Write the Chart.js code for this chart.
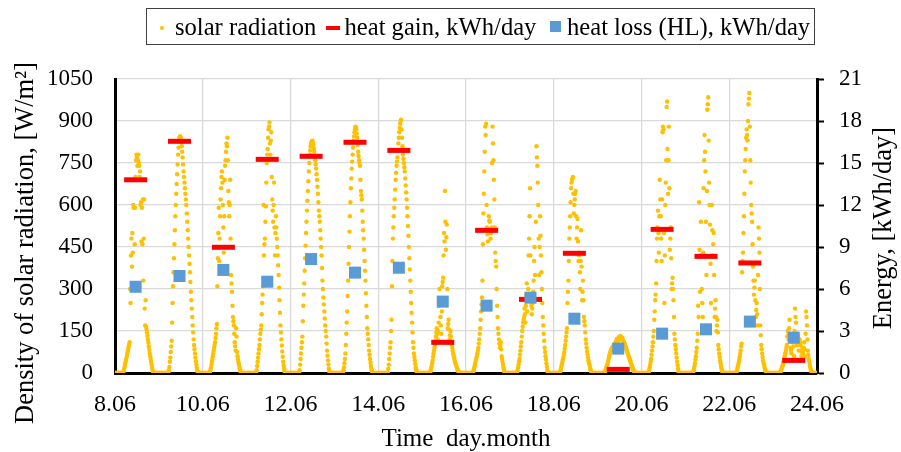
<!DOCTYPE html>
<html>
<head>
<meta charset="utf-8">
<script src="https://cdn.jsdelivr.net/npm/chart.js@4.4.1/dist/chart.umd.min.js"></script>
<style>
  html, body { margin: 0; padding: 0; background: #fff; }
  #wrap { position: relative; width: 901px; height: 452px; }
  #legendBox { position: absolute; left: 146px; top: 8px; width: 667px; height: 35px; border: 1px solid #404040; }
  .lg { position: absolute; top: 15px; font-family: 'Liberation Serif', 'Times New Roman', serif; font-size: 24.6px; line-height: 1; color: #000; white-space: nowrap; }
  .mk { position: absolute; }
</style>
</head>
<body>
<div id="wrap">
  <canvas id="solarChart"></canvas>
  <div id="legendBox"></div>
  <div class="mk" style="left:160px;top:25.5px;width:4px;height:4px;border-radius:50%;background:#FFC000"></div>
  <span class="lg" style="left:175px">solar radiation</span>
  <div class="mk" style="left:326px;top:26px;width:13.5px;height:3.5px;background:#FF0000"></div>
  <span class="lg" style="left:344.5px">heat gain, kWh/day</span>
  <div class="mk" style="left:550px;top:21px;width:11px;height:11px;background:#5B9BD5"></div>
  <span class="lg" style="left:567px">heat loss (HL), kWh/day</span>
</div>
<script>
// days of June shown on the chart
const days = [8, 9, 10, 11, 12, 13, 14, 15, 16, 17, 18, 19, 20, 21, 22, 23];

// solar radiation, W/m2, one reading every 15 min (0:00 ... 23:45) for each day
const solar = [
  [0,0,0,0,0, 0,0,0,0,0, 0,0,0,0,0, 0,0,0,
   3,8,15,22,30,38,46,54,62,70, 78,86,94,102,110,300,250,420,480,380, 500,430,600,590,320,460,590,700,760,780,
   770,740,760,780,750,740,700,720,600,610, 470,590,460,620,330,480,620,230,170,260, 165,155,145,132,120,108,95,82,70,60, 50,40,30,20,12,5,
   0,0,0,0,0, 0,0,0,0,0, 0,0],
  [0,0,0,0,0, 0,0,0,0,0, 0,0,0,0,0, 0,0,0,0,0, 0,0,
   10,22,40,55,75,95,115,180,250,310, 360,410,460,510,560,600,640,675,710,745, 780,805,830,840,845,845,840,825,810,790,
   770,745,720,700,680,660,640,620,600,570, 540,510,480,450,420,390,360,325,290,260, 230,200,170,145,120,100,85,70,55,42, 30,20,10,4,
   0,0,0,0,0, 0,0,0,0,0],
  [0,0,0,0,0, 0,0,0,0,0, 0,0,0,0,0, 0,
   5,12,20,30,40,50,60,70,80,90, 100,110,125,140,160,175,310,410,500,590, 400,480,560,620,660,700,720,680,600,520,
   430,560,690,740,760,790,820,810,840,760, 650,610,560,600,690,480,350,320,290,240, 200,185,170,140,110,95,80,160,130,75, 60,50,40,32,25,17,10,4,
   0,0,0,0,0, 0,0,0,0,0, 0,0],
  [0,0,0,0,0, 0,0,0,0,0, 0,0,0,0,0, 0,0,0,0,0, 0,0,
   10,25,40,55,70,85,100,120,140,155, 170,210,250,280,310,600,420,460,480,540, 595,680,750,780,800,840,870,880,895,820,
   780,830,860,700,620,580,540,600,680,520, 420,500,560,520,480,450,420,385,350,305, 260,215,170,145,120,98,77,58,40,27, 15,6,
   0,0,0,0,0, 0,0,0,0,0, 0,0],
  [0,0,0,0,0, 0,0,0,0,0, 0,0,0,0,0, 0,0,0,0,0,
   10,30,50,70,90,110,130,185,240,280, 320,365,410,455,500,540,580,615,650,685, 720,750,780,795,810,818,825,828,830,822,
   815,802,790,775,760,745,730,710,690,665, 640,610,580,560,540,510,480,450,420,375, 330,300,270,245,220,195,170,150,130,105, 80,62,45,30,15,5,
   0,0,0,0,0, 0,0,0,0,0],
  [0,0,0,0,0, 0,0,0,0,0, 0,0,0,0,0, 0,0,0,0,0,
   10,20,35,50,70,100,140,180,220,275, 330,390,450,505,560,610,660,695,730,755, 780,805,830,845,860,870,880,878,870,855,
   840,815,790,775,760,750,740,690,650,635, 620,580,540,510,480,440,400,365,330,285, 240,200,160,140,120,100,80,65,50,37, 25,15,8,3,
   0,0,0,0,0, 0,0,0,0,0, 0,0],
  [0,0,0,0,0, 0,0,0,0,0, 0,0,0,0,0, 0,0,0,0,0, 0,0,
   15,30,50,70,90,110,150,190,310,400, 480,520,560,590,620,655,690,715,740,755, 770,795,820,840,860,875,890,900,905,870,
   840,810,780,765,750,735,720,695,670,645, 620,590,560,525,490,450,410,370,330,290, 250,215,180,145,110,90,70,57,45,32, 20,12,5,2,
   0,0,0,0,0, 0,0,0,0,0],
  [0,0,0,0,0, 0,0,0,0,0, 0,0,0,0,0, 0,0,0,
   5,10,18,25,35,45,58,70,80,90, 100,115,130,145,160,140,120,150,180,240, 300,250,200,170,140,220,310,325,340,420,
   500,470,650,540,440,485,530,300,160,175, 190,155,120,135,150,130,110,100,90,80, 70,62,55,47,40,35,30,25,20,15, 10,7,5,2,
   0,0,0,0,0, 0,0,0,0,0, 0,0,0,0],
  [0,0,0,0,0, 0,0,0,0,0, 0,0,0,0,0, 0,
   5,10,18,25,32,40,48,55,62,70, 80,90,105,120,140,160,190,220,245,270, 330,460,570,640,720,790,880,850,890,600,
   520,495,470,515,560,545,540,510,480,500, 520,750,880,820,760,690,620,520,430,400, 380,300,240,200,160,140,120,105,90,100, 110,85,60,50,40,30,20,12,5,2,
   0,0,0,0,0, 0,0,0,0,0],
  [0,0,0,0,0, 0,0,0,0,0, 0,0,0,0,0, 0,
   5,12,20,30,40,50,65,80,95,110, 130,150,165,180,190,200,230,210,180,240, 280,320,220,260,300,420,480,560,660,420,
   280,240,210,230,250,290,330,400,450,350, 260,540,810,770,740,680,600,480,350,450, 560,490,420,360,300,250,200,170,140,115, 90,75,60,48,35,22,10,4,
   0,0,0,0,0, 0,0,0,0,0, 0,0],
  [0,0,0,0,0, 0,0,0,0,0, 0,0,0,0,
   5,10,18,25,32,40,48,55,65,75, 88,100,115,130,145,160,250,290,330,400, 480,520,560,610,660,680,690,695,700,640,
   570,600,620,640,650,560,480,520,550,470, 400,420,430,360,300,400,510,380,260,290, 330,260,200,185,170,145,120,105,90,77, 65,55,45,37,30,22,15,10,5,2,
   0,0,0,0,0, 0,0,0,0,0, 0,0],
  [0,0,0,0,0, 0,0,0,0,0, 0,0,0,0,0, 0,
   3,8,14,20,25,30,35,42,50,58, 65,70,75,80,85,88,90,93,95,98, 100,103,105,108,110,116,122,115,108,118,
   128,122,118,125,132,126,120,123,126,119, 112,111,110,105,100,95,90,85,80,75, 70,65,60,55,50,45,40,35,30,25, 20,16,12,8,5,2,
   0,0,0,0,0, 0,0,0,0,0, 0,0,0,0],
  [0,0,0,0,0, 0,0,0,0,0, 0,0,0,0,0, 0,
   5,12,20,30,40,50,65,80,95,110, 130,150,190,220,260,280,320,400,480,520, 580,500,430,560,690,620,560,480,400,620,
   860,880,870,500,250,420,600,680,760,950, 970,800,640,760,880,660,440,480,520,410, 300,320,340,300,260,200,140,120,100,85, 70,55,40,28,15,5,
   0,0,0,0,0, 0,0,0,0,0, 0,0,0,0],
  [0,0,0,0,0, 0,0,0,0,0, 0,0,0,0,0, 0,0,0,
   8,15,25,35,48,60,75,90,115,140, 240,200,610,440,290,420,540,420,300,250, 200,430,660,760,850,790,720,540,350,650,
   940,960,985,830,680,600,530,390,250,420, 600,510,420,460,500,350,200,230,260,200, 150,170,190,145,100,85,70,57,45,35, 25,17,10,4,
   0,0,0,0,0, 0,0,0,0,0, 0,0,0,0],
  [0,0,0,0,0, 0,0,0,0,0, 0,0,0,0,0, 0,
   5,10,18,25,32,40,50,60,70,80, 95,105,360,400,430,500,560,640,720,760, 800,840,870,850,830,900,960,980,1000,880,
   760,680,600,570,540,460,380,330,280,305, 330,260,200,225,250,210,170,350,520,480, 430,300,170,135,100,85,70,57,45,37, 30,22,15,10,5,2,
   0,0,0,0,0, 0,0,0,0,0, 0,0,0,0],
  [0,0,0,0,0, 0,0,0,0,0, 0,0,0,0,0, 0,
   5,8,12,18,22,28,35,42,50,58, 65,72,80,90,100,130,150,135,120,160, 190,140,90,80,70,90,110,120,130,95,
   60,150,230,200,180,140,100,115,130,105, 80,100,120,110,100,80,60,75,90,80, 70,90,110,85,60,140,220,200,170,120, 80,65,50,40,30,22,15,10,5,2,
   0,0,0,0,0, 0,0,0,0,0]
];

// daily energy, kWh/day
const heatGain = [13.8, 16.55, 8.98, 15.26, 15.48, 16.48, 15.9, 2.19, 10.19, 5.26, 8.55, 0.26, 10.26, 8.33, 7.86, 0.9];
const heatLoss = [6.16, 6.93, 7.36, 6.52, 8.14, 7.17, 7.52, 5.1, 4.81, 5.38, 3.88, 1.74, 2.81, 3.12, 3.67, 2.52];

const xTickLabels = ['8.06', '10.06', '12.06', '14.06', '16.06', '18.06', '20.06', '22.06', '24.06'];

const leftTitle = 'Density of solar radiation, [W/m²]';
const rightTitle = 'Energy, [kWh/day]';

const markerTime = 0.47; // daily values plotted near midday
const font = "'Liberation Serif', 'Times New Roman', serif";

const solarPoints = [];
days.forEach((d, k) => {
    solar[k].forEach((v, i) => {
        solarPoints.push({ x: d + i / solar[k].length, y: v });
    });
});
const gainPoints = days.map((d, k) => ({ x: d + markerTime, y: heatGain[k] }));
const lossPoints = days.map((d, k) => ({ x: d + markerTime, y: heatLoss[k] }));

// both y titles read bottom-to-top, so draw them by hand
function drawVertical(c, text, x, y, size) {
    c.save();
    c.fillStyle = '#000';
    c.textAlign = 'center';
    c.textBaseline = 'middle';
    c.font = size + 'px ' + font;
    c.translate(x, y);
    c.rotate(-Math.PI / 2);
    c.fillText(text, 0, 0);
    c.restore();
}
const axisTitles = {
    id: 'axisTitles',
    afterDraw(chart) {
        drawVertical(chart.ctx, leftTitle, 26, 243, 26.5);
        drawVertical(chart.ctx, rightTitle, 884, 228, 26.5);
    }
};

const ctx = document.getElementById('solarChart').getContext('2d');
new Chart(ctx, {
    type: 'scatter',
    data: {
        datasets: [{
            label: 'solar radiation',
            data: solarPoints,
            yAxisID: 'y',
            pointRadius: 2.2,
            pointBackgroundColor: '#FFC000',
            pointBorderWidth: 0,
            order: 3
        }, {
            label: 'heat gain, kWh/day',
            data: gainPoints,
            yAxisID: 'y1',
            pointStyle: 'line',
            pointRadius: 11.5,
            pointBorderWidth: 5,
            pointBorderColor: '#FF0000',
            pointBackgroundColor: '#FF0000',
            order: 2
        }, {
            label: 'heat loss (HL), kWh/day',
            data: lossPoints,
            yAxisID: 'y1',
            pointStyle: 'rect',
            pointRadius: 8.5,
            pointBorderWidth: 0,
            pointBackgroundColor: '#5B9BD5',
            order: 1
        }]
    },
    plugins: [axisTitles],
    options: {
        responsive: true,
        maintainAspectRatio: false,
        animation: false,
        events: [],
        layout: { padding: { top: 79, left: 0, right: 0, bottom: 0 } },
        plugins: {
            legend: { display: false },
            tooltip: { enabled: false }
        },
        scales: {
            x: {
                type: 'linear',
                min: 8,
                max: 24,
                ticks: {
                    stepSize: 2,
                    autoSkip: false,
                    maxRotation: 0,
                    padding: 17,
                    color: '#000',
                    font: { family: font, size: 24 },
                    callback: (v) => xTickLabels[(v - 8) / 2]
                },
                grid: { color: '#d9d9d9', lineWidth: 1.3, drawTicks: false },
                border: { color: '#000', width: 3 },
                title: {
                    display: true,
                    text: 'Time  day.month',
                    color: '#000',
                    font: { family: font, size: 25, lineHeight: 1 },
                    padding: { top: 0, bottom: 0 }
                },
                afterFit: (s) => { s.height = 79; }
            },
            y: {
                position: 'left',
                min: 0,
                max: 1050,
                ticks: {
                    stepSize: 150,
                    padding: 22,
                    color: '#000',
                    font: { family: font, size: 23 },
                    callback: (v) => String(v)
                },
                grid: { color: '#d9d9d9', lineWidth: 1.3, drawTicks: false },
                border: { color: '#000', width: 3 },
                afterFit: (s) => { s.width = 115; }
            },
            y1: {
                position: 'right',
                min: 0,
                max: 21,
                ticks: {
                    stepSize: 3,
                    padding: 15,
                    color: '#000',
                    font: { family: font, size: 23 },
                    callback: (v) => String(v)
                },
                grid: { drawOnChartArea: false, drawTicks: true, tickLength: 7, tickColor: '#000', tickWidth: 2 },
                border: { color: '#000', width: 3 },
                afterFit: (s) => { s.width = 84; }
            }
        }
    }
});
</script>
</body>
</html>
